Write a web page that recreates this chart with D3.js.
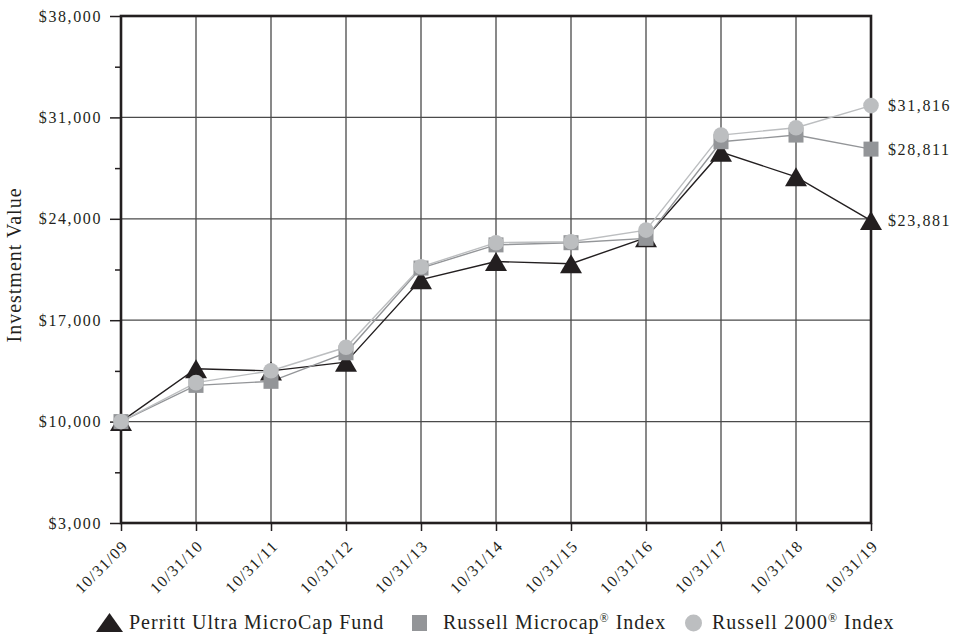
<!DOCTYPE html>
<html>
<head>
<meta charset="utf-8">
<script src="https://cdn.jsdelivr.net/npm/d3@7"></script>
<style>
  html, body { margin: 0; padding: 0; background: #fff; }
  svg { display: block; }
  text { font-family: "Liberation Serif", "Times New Roman", serif; fill: #231f20; }
</style>
</head>
<body>
<svg id="chart" width="959" height="637"></svg>
<script>
const dates = ["10/31/09","10/31/10","10/31/11","10/31/12","10/31/13","10/31/14","10/31/15","10/31/16","10/31/17","10/31/18","10/31/19"];
const perritt   = [10000, 13650, 13500, 14100, 19800, 21050, 20900, 22700, 28600, 26900, 23881];
const microcap  = [10000, 12500, 12780, 14750, 20600, 22200, 22350, 22650, 29320, 29780, 28811];
const russell2k = [10000, 12690, 13510, 15130, 20690, 22350, 22420, 23220, 29780, 30290, 31816];
const yTicks = [3000, 10000, 17000, 24000, 31000, 38000];
const yMinorTicks = [6500, 13500, 20500, 27500, 34500];
const seriesNames = [["Perritt Ultra MicroCap Fund", "", ""], ["Russell Microcap", "®", " Index"], ["Russell 2000", "®", " Index"]];
const endLabels = ["$23,881", "$28,811", "$31,816"];

const svg = d3.select("#chart");
const L = 121, R = 871, T = 16, B = 523;
const x = d3.scalePoint().domain(dates).range([L, R]);
const y = d3.scaleLinear().domain([3000, 38000]).range([B, T]);
const fmt = v => "$" + d3.format(",")(v);
const dark = "#231f20";

// grid
const g = svg.append("g");
g.selectAll("line.vg").data(dates).join("line")
  .attr("x1", d => x(d)).attr("x2", d => x(d)).attr("y1", T).attr("y2", B)
  .attr("stroke", "#4a4a4a").attr("stroke-width", 1.3);
g.selectAll("line.hg").data(yTicks).join("line")
  .attr("x1", L).attr("x2", R).attr("y1", d => y(d)).attr("y2", d => y(d))
  .attr("stroke", "#4a4a4a").attr("stroke-width", 1.3);

// y axis
const yAxis = svg.append("g").attr("transform", `translate(${L},0)`)
  .call(d3.axisLeft(y).tickValues(yTicks).tickFormat(fmt).tickSize(11).tickPadding(8));
yAxis.select(".domain").remove();
yAxis.selectAll(".tick line").attr("stroke", dark).attr("stroke-width", 1.5);
yAxis.selectAll("text").attr("font-size", 16).attr("letter-spacing", "1.6px")
  .attr("font-family", "Liberation Serif").attr("fill", dark);
const yMinor = svg.append("g").attr("transform", `translate(${L},0)`)
  .call(d3.axisLeft(y).tickValues(yMinorTicks).tickFormat("").tickSize(6));
yMinor.select(".domain").remove();
yMinor.selectAll(".tick line").attr("stroke", dark).attr("stroke-width", 1.5);

// x axis
const xAxis = svg.append("g").attr("transform", `translate(0,${B})`)
  .call(d3.axisBottom(x).tickSize(8).tickFormat(""));
xAxis.select(".domain").remove();
xAxis.selectAll(".tick line").attr("stroke", dark).attr("stroke-width", 1.5);
svg.append("g").selectAll("text").data(dates).join("text")
  .attr("transform", d => `translate(${x(d) + 8},${547}) rotate(-45)`)
  .attr("text-anchor", "end")
  .attr("font-size", 16).attr("letter-spacing", "1.3px")
  .text(d => d);

// frame
svg.append("rect").attr("x", L).attr("y", T).attr("width", R - L).attr("height", B - T)
  .attr("fill", "none").attr("stroke", dark).attr("stroke-width", 2.6);

// y title
svg.append("text")
  .attr("transform", `translate(21,265) rotate(-90)`)
  .attr("text-anchor", "middle").attr("font-size", 20).attr("letter-spacing", "1px")
  .text("Investment Value");

// series
const line = d3.line().x((d, i) => x(dates[i])).y(d => y(d));
const triPath = "M0,-9.5L11,9.5L-11,9.5Z";
const series = [
  {vals: perritt, color: dark, lw: 1.4},
  {vals: microcap, color: "#939598", lw: 1.4},
  {vals: russell2k, color: "#bcbec0", lw: 1.4}
];
series.forEach(s => {
  svg.append("path").datum(s.vals).attr("d", line)
    .attr("fill", "none").attr("stroke", s.color).attr("stroke-width", s.lw);
});
// markers
svg.append("g").selectAll("path").data(perritt).join("path")
  .attr("transform", (d, i) => `translate(${x(dates[i])},${y(d)})`)
  .attr("d", triPath).attr("fill", dark);
svg.append("g").selectAll("rect").data(microcap).join("rect")
  .attr("x", (d, i) => x(dates[i]) - 7.5).attr("y", d => y(d) - 7.5)
  .attr("width", 15).attr("height", 15).attr("fill", "#939598");
svg.append("g").selectAll("circle").data(russell2k).join("circle")
  .attr("cx", (d, i) => x(dates[i])).attr("cy", d => y(d)).attr("r", 7.8)
  .attr("fill", "#bcbec0");

// end labels
const lastDate = dates[dates.length - 1];
const lastVals = [perritt[perritt.length - 1], microcap[microcap.length - 1], russell2k[russell2k.length - 1]];
svg.append("g").selectAll("text").data(lastVals).join("text")
  .attr("x", x(lastDate) + 17).attr("y", d => y(d)).attr("dy", "0.35em")
  .attr("font-size", 16).attr("letter-spacing", "1.6px")
  .text((d, i) => endLabels[i]);

// legend
const lg = svg.append("g");
function legendText(xp, parts) {
  const t = lg.append("text").attr("x", xp).attr("y", 629).attr("font-size", 20).attr("letter-spacing", "1px");
  t.append("tspan").text(parts[0]);
  if (parts[1]) {
    t.append("tspan").attr("font-size", 12).attr("dy", -7).text(parts[1]);
    t.append("tspan").attr("dy", 7).text(parts[2]);
  }
}
lg.append("path").attr("transform", "translate(109.5,622.5)")
  .attr("d", "M0,-9.5L13.5,9.5L-13.5,9.5Z").attr("fill", dark);
legendText(129, seriesNames[0]);
lg.append("rect").attr("x", 412).attr("y", 615).attr("width", 15).attr("height", 16).attr("fill", "#939598");
legendText(443, seriesNames[1]);
lg.append("circle").attr("cx", 693.5).attr("cy", 623).attr("r", 8.5).attr("fill", "#bcbec0");
legendText(712, seriesNames[2]);
</script>
</body>
</html>
